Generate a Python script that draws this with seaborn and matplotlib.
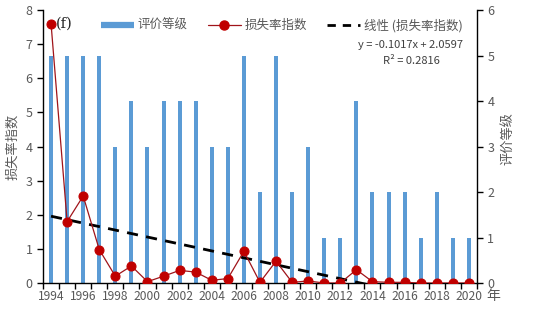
import numpy as np
import pandas as pd
import matplotlib
matplotlib.use("Agg")
import matplotlib.pyplot as plt
import seaborn as sns
from matplotlib.lines import Line2D

sns.set_theme(style="white")
plt.rcParams['font.family'] = ['Noto Sans CJK SC', 'DejaVu Sans']

years = list(range(1994, 2021))
grade = [5, 5, 5, 5, 3, 4, 3, 4, 4, 4, 3, 3, 5, 2, 5, 2, 3, 1, 1, 4, 2, 2, 2, 1, 2, 1, 1]
loss = [7.6, 1.8, 2.55, 0.98, 0.2, 0.5, 0.04, 0.2, 0.37, 0.32, 0.08, 0.13, 0.93, 0.02,
        0.64, 0.02, 0.06, 0.0, 0.0, 0.39, 0.04, 0.02, 0.02, 0.0, 0.0, 0.0, 0.0]
trend_slope = -0.1017
trend_intercept = 2.0597
eq_line1 = "y = -0.1017x + 2.0597"
eq_line2 = "R² = 0.2816"

df = pd.DataFrame({"year": [str(y) for y in years], "grade": grade, "loss": loss,
                   "pos": np.arange(len(years))})

fig = plt.figure(figsize=(5.39, 3.24), dpi=100)
ax1 = fig.add_axes([0.0798, 0.1265, 0.805, 0.8425])
bar_color = "#5B9BD5"
sns.barplot(data=df, x="year", y="grade", color=bar_color, width=0.25, ax=ax1,
            saturation=1, edgecolor="none")
ax1.set_ylim(0, 6)
ax1.set_xlim(-0.5, len(years) - 0.5)

ax2 = ax1.twinx()
line_color = "#A0141A"
sns.lineplot(data=df, x="pos", y="loss", ax=ax2, color=line_color, lw=0.9,
             marker="o", markersize=6.5, markerfacecolor="#C00000",
             markeredgecolor="#C00000", zorder=5)
# trendline from displayed equation (x = 1..n)
xs = np.arange(1, len(years) + 1)
ty = trend_slope * xs + trend_intercept
ax2.plot(xs - 1, ty, ls=(0, (4, 3)), color="black", lw=2, zorder=4)
ax2.set_ylim(0, 8)
ax2.set_xlim(-0.5, len(years) - 0.5)

ax1.yaxis.tick_right()
ax1.yaxis.set_label_position("right")
ax2.yaxis.tick_left()
ax2.yaxis.set_label_position("left")

for a in (ax1, ax2):
    for s in a.spines.values():
        s.set_visible(False)
for s in ('left', 'bottom', 'right'):
    ax2.spines[s].set_visible(True)
    ax2.spines[s].set_color("black")
    ax2.spines[s].set_linewidth(1.0)

tick_gray = "#595959"
ax2.set_yticks(range(0, 9))
ax2.tick_params(axis='y', which='major', left=True, length=4, width=1, color="black",
                labelsize=9, labelcolor=tick_gray, direction='out')
ax1.set_yticks(range(0, 7))
ax1.tick_params(axis='y', which='major', right=True, left=False, length=4, width=1,
                color="black", labelsize=9, labelcolor=tick_gray, direction='out')

ax1.set_xticks(np.arange(0, len(years), 2))
ax1.set_xticklabels([str(y) for y in years[::2]])
ax1.set_xticks(np.arange(-0.5, len(years), 1), minor=True)
ax1.tick_params(axis='x', which='major', length=0, labelsize=8.7, labelcolor=tick_gray, pad=5)
ax1.tick_params(axis='x', which='minor', bottom=True, length=4, width=1, color="black",
                direction='out')
ax2.tick_params(axis='x', which='both', bottom=False, labelbottom=False)
ax1.set_xlabel("")
ax2.set_xlabel("")
ax2.set_ylabel("损失率指数", fontsize=9.5, color=tick_gray)
ax1.set_ylabel("评价等级", fontsize=9.5, color=tick_gray, rotation=90)
ax2.yaxis.set_label_coords(-0.055, 0.5)
ax1.yaxis.set_label_coords(1.058, 0.53)

fig.text(0.903, 0.085, "年", fontsize=10, color=tick_gray, ha='left', va='center')

ax2.text(0.3, 7.6, "(f)", fontsize=10.5, fontfamily='DejaVu Serif', va='center', ha='left')
ax2.text(0.848, 0.872, eq_line1, transform=ax2.transAxes, fontsize=8, color="#404040",
         ha='center', va='center')
ax2.text(0.848, 0.813, eq_line2, transform=ax2.transAxes, fontsize=8, color="#404040",
         ha='center', va='center')

handles = [Line2D([0], [0], color=bar_color, lw=4.5, solid_capstyle='butt'),
           Line2D([0], [0], color=line_color, lw=0.9, marker='o', markersize=6.5,
                  markerfacecolor="#C00000", markeredgecolor="#C00000"),
           Line2D([0], [0], color="black", lw=2, ls=(0, (3, 2.5)))]
labels = ["评价等级", "损失率指数", "线性 (损失率指数)"]
ax2.legend(handles, labels, loc='upper center', bbox_to_anchor=(0.55, 1.01), ncol=3,
           frameon=False, fontsize=9, handlelength=2.65, columnspacing=1.6,
           handletextpad=0.3, labelcolor=tick_gray)

fig.savefig("out.png", dpi=100, facecolor="white")
